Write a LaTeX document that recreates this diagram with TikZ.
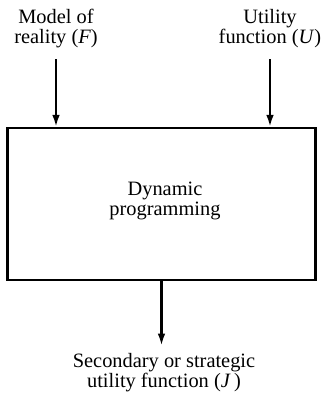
\documentclass[tikz,border=0pt]{standalone}
\usepackage{fontspec}
\setmainfont{Liberation Serif}
\usetikzlibrary{arrows.meta,positioning}

\tikzset{
  label/.style = {align=center, inner sep=0pt, font=\fontsize{10.2}{10}\selectfont},
  flow/.style = {-{Latex[length=6pt,width=3.8pt]}},
}

\begin{document}
\begin{tikzpicture}[x=0.5pt, y=-0.5pt, line width = 1.1pt]
\useasboundingbox (0, 0) rectangle (325, 393);
\node[draw, minimum width = 154pt, minimum height = 76pt, inner sep = 0pt] (dp) at (161.5, 204) {};
\node[label] (dptext) at (165, 201) {Dynamic\\programming};
\node[label] (model) at (56, 29) {Model of\\reality (\textit{F})};
\node[label] (utility) at (270, 29) {Utility\\function (\textit{U})};
\node[label] (second) at (164, 373) {Secondary or strategic\\utility function (\textit{J}\,)};
\draw[flow, shorten <= 5pt] (model.south) -- (model.south |- dp.north);
\draw[flow, shorten <= 5pt] (utility.south) -- (utility.south |- dp.north);
\draw[flow, shorten >= 3.5pt] (dp.south) -- (dp.south |- second.north);
\end{tikzpicture}
\end{document}
